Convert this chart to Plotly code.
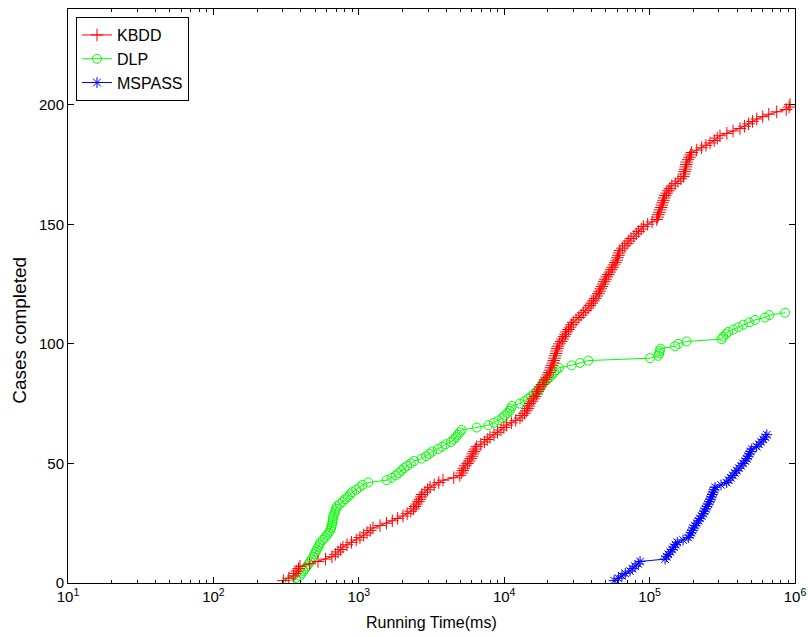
import plotly.graph_objects as go

# ---- data (running time in ms for each completed case) ----
kbdd_time = [
    303, 330, 355,
    365, 375, 385, 394,
    460, 524,
    590, 654,
    690, 720, 750, 778,
    830, 890, 960, 1018,
    1080, 1140, 1200, 1252,
    1400, 1550, 1700,
    1850, 2013,
    2150, 2280, 2380, 2436,
    2500, 2570, 2630, 2690, 2721,
    2850, 2970, 3090,
    3300, 3550, 3795,
    4500, 4950,
    5100, 5200, 5280, 5400,
    5600, 5750, 5900, 6000, 6100, 6200, 6330, 6474,
    6900, 7300, 7650, 7985,
    8500, 9000, 9500, 9950, 10400,
    11200, 12000, 12840, 13300,
    13800, 14200, 14500, 14800, 15040,
    15500, 15900, 16300, 16700, 17000, 17300, 17620,
    18200, 18700, 19100, 19590,
    20000, 20400, 20700, 21000, 21300, 21660,
    21900, 22200, 22400, 22700, 22900, 23200, 23450,
    24000, 24600, 25200, 25800, 26400, 26900,
    27700, 28400, 29100, 29850,
    31200, 32600, 33800, 34980,
    36400, 37800, 38900,
    40000, 41100, 42200, 43300, 44370,
    45300, 46200, 47000, 47900, 48800, 49700, 50700,
    52000, 53300, 54500, 55700, 56900, 58100, 59400,
    60200, 61000, 61800, 62550,
    65000, 67500, 70000, 72000, 74500,
    78000, 81000, 84000, 87500, 90550,
    97000, 104000, 112000,
    113500, 115000, 116500, 118000,
    120000, 121500, 123000, 124700, 126300, 127700,
    131000, 134500, 138000, 142000,
    150000, 157000, 164000, 170600,
    172500, 174500, 176000, 177500, 178800, 180000,
    184000, 188000, 191500, 194800,
    211000, 228000, 244000, 260300,
    278000, 292000, 304800,
    340000, 375000, 418500, 450000,
    480000, 510000, 545500, 600000,
    660000, 748500, 870000,
    910000, 924600,
]

dlp_time = [
    336, 370, 394,
    405, 415,
    428, 440, 452, 463, 475, 486,
    495, 505, 515, 525, 535, 545,
    565, 585, 605,
    620, 635, 645, 652,
    657, 661, 665, 668,
    678, 688, 697, 705,
    740, 775, 804,
    840, 870, 900,
    960, 1010, 1060,
    1162,
    1555, 1680, 1800,
    1880, 1960, 2050, 2150,
    2280, 2400,
    2700, 2900,
    3050, 3200,
    3500, 3750, 3950,
    4300, 4500,
    4650, 4800, 4950, 5100,
    6474, 7780,
    8500, 9110,
    9700, 10100, 10500, 10900,
    11100, 11300,
    12800, 13800, 14500,
    15300, 16000, 16720,
    17300, 17800, 18300, 18800,
    19700, 20500, 21220,
    22000, 22800, 23800,
    29120, 33200,
    37850,
    100700, 114800,
    116500, 117500, 118500,
    149600, 157500,
    179800,
    313000, 321000,
    335000, 347600,
    376500, 407700,
    440800, 485000,
    530500,
    622000, 665800,
    854900,
]

mspass_time = [
    57000, 61000, 64500,
    68000, 73300,
    76000, 79500, 83600,
    86000,
    127700, 131000, 134500,
    139000, 143000, 147000, 151000, 155000,
    170000, 184600,
    189000, 193000, 197000, 200000,
    205000, 211000, 217000, 222000, 228000, 234000,
    238000, 243000, 248000, 253000, 258000, 262000,
    266000, 270000, 274000, 278000, 282000,
    310000, 339000,
    350000, 362000, 374000, 386000, 398000,
    412000, 426000, 440000, 454000, 466000,
    476000, 486000, 495000, 504000,
    544800,
    565000, 585000, 605000, 625000, 640000,
]

series_names = ["KBDD", "DLP", "MSPASS"]
y_tick_vals = [0, 50, 100, 150, 200]
x_tick_vals = [1e1, 1e2, 1e3, 1e4, 1e5, 1e6]
x_tick_text = ["10<sup>1</sup>", "10<sup>2</sup>", "10<sup>3</sup>",
               "10<sup>4</sup>", "10<sup>5</sup>", "10<sup>6</sup>"]
x_minor_vals = [m * d for d in (10, 100, 1000, 10000, 100000) for m in range(2, 10)]


def counts(times):
    # cases completed = running count of finished cases
    return list(range(1, len(times) + 1))


FONT = "Liberation Sans, Arial, sans-serif"

fig = go.Figure()

fig.add_trace(go.Scatter(
    x=dlp_time, y=counts(dlp_time), name=series_names[1], mode="lines+markers",
    line=dict(color="#00ff00", width=1),
    marker=dict(symbol="circle-open", size=9, color="#00ff00",
                line=dict(color="#00ff00", width=1)),
    legendrank=2, hoverinfo="skip",
))
fig.add_trace(go.Scatter(
    x=mspass_time, y=counts(mspass_time), name=series_names[2], mode="lines+markers",
    line=dict(color="#0000ff", width=1),
    marker=dict(symbol="asterisk-open", size=9, color="#0000ff",
                line=dict(color="#0000ff", width=1)),
    legendrank=3, hoverinfo="skip",
))
fig.add_trace(go.Scatter(
    x=kbdd_time, y=counts(kbdd_time), name=series_names[0], mode="lines+markers",
    line=dict(color="#ff0000", width=1),
    marker=dict(symbol="cross-thin-open", size=9, color="#ff0000",
                line=dict(color="#ff0000", width=1)),
    legendrank=1, hoverinfo="skip",
))

fig.update_layout(
    width=808, height=637, autosize=False,
    margin=dict(l=68, r=13, t=9, b=54),
    paper_bgcolor="white", plot_bgcolor="white",
    font=dict(family=FONT, size=15, color="black"),
    showlegend=True,
    legend=dict(
        x=0.011, y=0.986, xanchor="left", yanchor="top",
        bgcolor="white", bordercolor="black", borderwidth=1,
        font=dict(family=FONT, size=16, color="black"),
        tracegroupgap=0, itemwidth=30,
    ),
    xaxis=dict(
        type="log", range=[1, 6], automargin=False,
        tickmode="array", tickvals=x_tick_vals, ticktext=x_tick_text,
        ticks="inside", ticklen=6, tickwidth=1, tickcolor="black",
        ticklabeloverflow="allow",
        minor=dict(tickmode="array", tickvals=x_minor_vals, ticks="inside",
                   ticklen=3, tickwidth=1, tickcolor="black", showgrid=False),
        showline=True, linecolor="black", linewidth=1, mirror="ticks",
        showgrid=False, zeroline=False,
        tickfont=dict(family=FONT, size=15, color="black"),
    ),
    yaxis=dict(
        range=[0, 240], automargin=False,
        tickmode="array", tickvals=y_tick_vals,
        ticks="inside", ticklen=6, tickwidth=1, tickcolor="black",
        showline=True, linecolor="black", linewidth=1, mirror="ticks",
        showgrid=False, zeroline=False,
        tickfont=dict(family=FONT, size=15, color="black"),
    ),
    annotations=[
        dict(text="Running Time(ms)", xref="paper", yref="paper",
             x=0.5, y=-0.05, xanchor="center", yanchor="top", showarrow=False,
             font=dict(family=FONT, size=16, color="black")),
        dict(text="Cases completed", xref="paper", yref="paper",
             x=-0.067, y=0.44, xanchor="center", yanchor="middle", showarrow=False,
             textangle=-90, font=dict(family=FONT, size=19, color="black")),
    ],
)

# remove the page's default body margin so the figure fills the window exactly,
# then re-apply the fixed size once no scrollbars are present
fig.write_html(
    "out.html",
    config={"displayModeBar": False, "responsive": False},
    post_script=(
        "document.body.style.margin='0';"
        "document.body.style.overflow='hidden';"
        "Plotly.relayout('{plot_id}', {width: 808, height: 637});"
    ),
)
